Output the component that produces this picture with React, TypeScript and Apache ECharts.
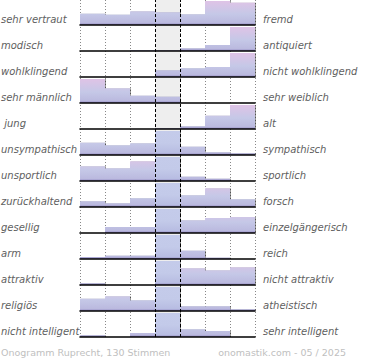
import React, { useEffect, useRef } from "react";
import * as echarts from "echarts";

const leftLabels = [
  "sehr vertraut", "modisch", "wohlklingend", "sehr männlich", " jung",
  "unsympathisch", "unsportlich", "zurückhaltend", "gesellig", "arm",
  "attraktiv", "religiös", "nicht intelligent",
];
const rightLabels = [
  "fremd", "antiquiert", "nicht wohlklingend", "sehr weiblich", "alt",
  "sympathisch", "sportlich", "forsch", "einzelgängerisch", "reich",
  "nicht attraktiv", "atheistisch", "sehr intelligent",
];
const scaleSteps = ["1", "2", "3", "4", "5", "6", "7"];
// relative share per scale step (24 = full row height, neutral clipped)
const votes = [
  [11.3, 10.3, 13.7, 12.7, 10.7, 24, 22.3],
  [0, 0, 0.6, 0.6, 2.7, 6, 24],
  [0, 0, 0, 6.7, 8.7, 10, 24],
  [24, 14.7, 7.3, 6.3, 0, 0, 0],
  [0, 0, 0, 0.7, 2.7, 13.3, 24],
  [12.3, 9.7, 11.7, 24, 8.3, 2.7, 1.7],
  [14.7, 12.7, 19.7, 24, 4.3, 2.3, 0],
  [5.7, 3.7, 8.7, 24, 11.7, 18.7, 7.7],
  [0, 6, 6, 24, 12.7, 15, 16],
  [2, 3.3, 3.3, 24, 8.3, 1.3, 0],
  [1.7, 0, 0, 24, 16.7, 14.7, 17.7],
  [12.3, 14.7, 10.7, 24, 4.7, 4.7, 1.7],
  [1.7, 0, 4, 24, 7.7, 6, 0],
];
const footerLeft = "Onogramm Ruprecht, 130 Stimmen";
const footerRight = "onomastik.com - 05 / 2025";

const MAXV = 24;
const ROW_H = 26;
const TOP0 = 1;
const LEFT = 80;
const WIDTH = 175;

function hexToRgb(h: string) {
  const n = parseInt(h.slice(1), 16);
  return [(n >> 16) & 255, (n >> 8) & 255, n & 255];
}
function mix(a: string, b: string, t: number) {
  const A = hexToRgb(a), B = hexToRgb(b);
  const c = A.map((v, i) => Math.round(v + (B[i] - v) * t));
  return `rgb(${c[0]},${c[1]},${c[2]})`;
}
const pinkStops: [number, string][] = [[0, "#958dc4"], [2.5, "#bbbadf"], [11, "#c5c8e7"], [24, "#dfc3e6"]];
const blueStops: [number, string][] = [[0, "#958dc4"], [2.5, "#b8bde2"], [12, "#c3cae9"], [24, "#c4cbea"]];
function colorAt(stops: [number, string][], y: number) {
  for (let i = 1; i < stops.length; i++) {
    if (y <= stops[i][0]) {
      const t = (y - stops[i - 1][0]) / (stops[i][0] - stops[i - 1][0]);
      return mix(stops[i - 1][1], stops[i][1], t);
    }
  }
  return stops[stops.length - 1][1];
}
function barColor(v: number, blue: boolean) {
  const stops = blue ? blueStops : pinkStops;
  const cs: { offset: number; color: string }[] = [{ offset: 0, color: colorAt(stops, v) }];
  stops.forEach(([k, c]) => {
    if (k < v) cs.push({ offset: (v - k) / v, color: c });
  });
  cs.sort((a, b) => a.offset - b.offset);
  return new echarts.graphic.LinearGradient(0, 0, 0, 1, cs);
}

export default function App() {
  const ref = useRef<HTMLDivElement>(null);
  useEffect(() => {
    if (!ref.current) return;
    const chart = echarts.init(ref.current, undefined, { renderer: "svg" });
    const n = votes.length;
    const grids: any[] = [];
    const xAxes: any[] = [];
    const yAxes: any[] = [];
    const series: any[] = [];
    const graphics: any[] = [];
    votes.forEach((row, i) => {
      grids.push({ left: LEFT, width: WIDTH, top: TOP0 + ROW_H * i, height: MAXV });
      xAxes.push({
        gridIndex: i, type: "category", data: scaleSteps, boundaryGap: true, z: 4,
        axisLine: { show: true, lineStyle: { color: "#000", width: 1.6 } },
        axisTick: { show: false }, axisLabel: { show: false }, splitLine: { show: false },
      });
      yAxes.push({ gridIndex: i, type: "value", min: 0, max: MAXV, show: false, splitLine: { show: false } });
      series.push({
        type: "bar", xAxisIndex: i, yAxisIndex: i, barCategoryGap: "0%", z: 2,
        data: row.map((v, j) => ({
          value: v,
          itemStyle: {
            color: v > 0 ? barColor(v, j === 3 && v >= MAXV) : "transparent",
            shadowColor: "rgba(0,0,0,0.4)", shadowOffsetX: 1, shadowOffsetY: 0, shadowBlur: 0,
          },
        })),
      });
      const base = TOP0 + ROW_H * i + MAXV;
      graphics.push({
        type: "text", left: 1, top: base - 11,
        style: { text: leftLabels[i], font: "italic 10px 'DejaVu Sans'", fill: "#606060" },
      });
      graphics.push({
        type: "text", left: 263, top: base - 11,
        style: { text: rightLabels[i], font: "italic 10px 'DejaVu Sans'", fill: "#606060" },
      });
    });
    // background grid with column guides
    grids.push({ left: LEFT, width: WIDTH, top: 0, height: TOP0 + ROW_H * (n - 1) + MAXV });
    xAxes.push({
      gridIndex: n, type: "value", min: 0, max: 7, interval: 1, z: 0,
      axisLine: { show: false }, axisTick: { show: false }, axisLabel: { show: false },
      splitLine: { show: true, lineStyle: { color: "#888", type: [1, 2], width: 1 } },
    });
    yAxes.push({ gridIndex: n, type: "value", min: 0, max: 1, show: false, splitLine: { show: false } });
    series.push({
      type: "line", xAxisIndex: n, yAxisIndex: n, data: [[0, 0]], symbol: "none", z: 1,
      lineStyle: { opacity: 0 }, silent: true,
      markArea: { silent: true, itemStyle: { color: "#eeeeee" }, data: [[{ xAxis: 3 }, { xAxis: 4 }]] },
    });
    series.push({
      type: "line", xAxisIndex: n, yAxisIndex: n, data: [[0, 0]], symbol: "none", z: 6,
      lineStyle: { opacity: 0 }, silent: true,
      markLine: {
        silent: true, symbol: "none", label: { show: false },
        lineStyle: { color: "#000", type: [3, 2], width: 1 },
        data: [{ xAxis: 3 }, { xAxis: 4 }],
      },
    });
    graphics.push({
      type: "text", left: 1, top: 347,
      style: { text: footerLeft, font: "9.5px 'DejaVu Sans'", fill: "#c0c0c0" },
    });
    graphics.push({
      type: "text", right: 24, top: 347,
      style: { text: footerRight, font: "9.5px 'DejaVu Sans'", fill: "#c0c0c0" },
    });
    chart.setOption({
      animation: false,
      grid: grids, xAxis: xAxes, yAxis: yAxes, series, graphic: graphics,
    });
    return () => chart.dispose();
  }, []);
  return <div ref={ref} style={{ width: 370, height: 360, position: "absolute", left: 0, top: 0 }} />;
}
